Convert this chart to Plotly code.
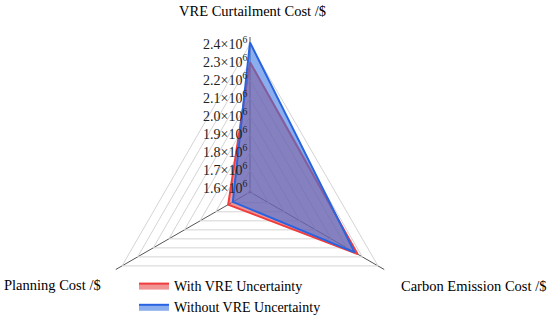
import plotly.graph_objects as go

categories = ["VRE Curtailment Cost /$", "Carbon Emission Cost /$", "Planning Cost /$"]
with_vre = [2.30e6, 2.27e6, 1.72e6]
without_vre = [2.41e6, 2.25e6, 1.69e6]
tick_vals = [1.6e6, 1.7e6, 1.8e6, 1.9e6, 2.0e6, 2.1e6, 2.2e6, 2.3e6, 2.4e6]
tick_text = ["1.6×10<sup>6</sup>", "1.7×10<sup>6</sup>", "1.8×10<sup>6</sup>", "1.9×10<sup>6</sup>",
             "2.0×10<sup>6</sup>", "2.1×10<sup>6</sup>", "2.2×10<sup>6</sup>", "2.3×10<sup>6</sup>",
             "2.4×10<sup>6</sup>"]

FONT = "Liberation Serif, Times New Roman, serif"
W, H = 550, 350

fig = go.Figure()
fig.add_trace(go.Scatterpolar(
    r=with_vre + with_vre[:1], theta=categories + categories[:1],
    name="With VRE Uncertainty", mode="lines", fill="toself",
    fillcolor="rgba(230,60,60,0.55)", line=dict(color="rgb(240,60,60)", width=2),
))
fig.add_trace(go.Scatterpolar(
    r=without_vre + without_vre[:1], theta=categories + categories[:1],
    name="Without VRE Uncertainty", mode="lines", fill="toself",
    fillcolor="rgba(55,115,225,0.58)", line=dict(color="rgb(40,100,225)", width=2),
))

def px(x):
    return x / W

def py(y):
    return 1 - y / H

fig.update_layout(
    width=W, height=H,
    margin=dict(l=0, r=0, t=0, b=0),
    paper_bgcolor="white",
    font=dict(family=FONT, size=14, color="black"),
    polar=dict(
        bgcolor="white",
        gridshape="linear",
        domain=dict(x=[px(95), px(405)], y=[py(347), py(37)]),
        radialaxis=dict(
            range=[1.58e6, 2.44e6], tickvals=tick_vals, ticktext=tick_text,
            angle=90, tickangle=90, side="counterclockwise",
            showline=False, ticks="", gridcolor="#d4d4d4", gridwidth=1,
            tickfont=dict(family=FONT, size=14, color="#222"),
        ),
        angularaxis=dict(
            direction="clockwise", rotation=90, showticklabels=False, ticks="",
            showline=False, gridcolor="#555555", gridwidth=1,
        ),
    ),
    legend=dict(x=px(134), y=py(270), xanchor="left", yanchor="top", tracegroupgap=0,
                font=dict(family=FONT, size=14, color="black"), bgcolor="rgba(0,0,0,0)"),
    annotations=[
        dict(text="VRE Curtailment Cost /$", x=px(252), y=py(11), xref="paper", yref="paper",
             xanchor="center", yanchor="middle", showarrow=False, font=dict(family=FONT, size=14.5)),
        dict(text="Planning Cost /$", x=px(52), y=py(285), xref="paper", yref="paper",
             xanchor="center", yanchor="middle", showarrow=False, font=dict(family=FONT, size=14.5)),
        dict(text="Carbon Emission Cost /$", x=px(473), y=py(286), xref="paper", yref="paper",
             xanchor="center", yanchor="middle", showarrow=False, font=dict(family=FONT, size=14.5)),
    ],
)

fig.write_html("out.html", config={"displayModeBar": False},
               post_script="document.body.style.margin='0px';")
